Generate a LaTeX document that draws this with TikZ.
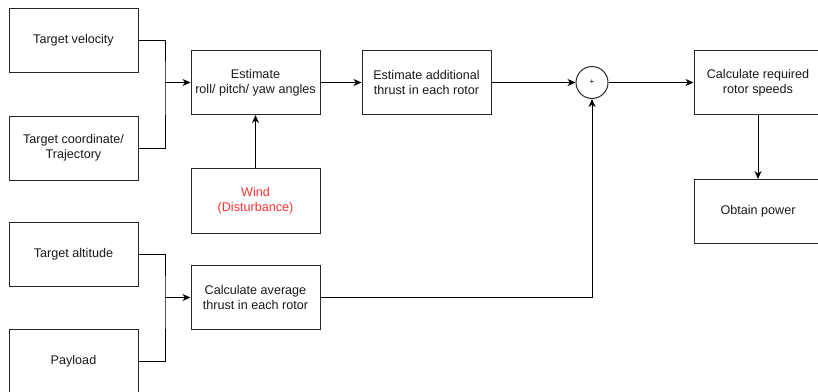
\documentclass[tikz,border=0pt]{standalone}
\usepackage{fontspec}
\setmainfont{Liberation Sans}
\usetikzlibrary{arrows.meta}
\definecolor{txt}{HTML}{1A1A1A}
\definecolor{windred}{HTML}{FF3333}
\begin{document}
\begin{tikzpicture}[x=1pt,y=-1pt,
  box/.style={draw=black!85, line width=1pt, fill=white, minimum width=129pt, minimum height=64pt,
    align=center, inner sep=2pt, font=\fontsize{12.6pt}{15pt}\selectfont, text=txt},
  sumnode/.style={draw=black!85, line width=1pt, circle, minimum size=32pt, inner sep=0pt, font=\fontsize{8pt}{9pt}\selectfont},
  conn/.style={line width=1pt, draw=black},
  arr/.style={conn, -{Stealth[length=8pt,width=7pt,inset=2.5pt]}}]
\useasboundingbox (0,0) rectangle (818,391);
\node[box] (tv) at (73.5,40.5) {Target velocity};
\node[box] (tc) at (73.5,148) {Target coordinate/\\Trajectory};
\node[box] (er) at (255.5,82.5) {Estimate\\roll/ pitch/ yaw angles};
\node[box] (ea) at (426.5,82.5) {Estimate additional\\thrust in each rotor};
\node[sumnode] (plus) at (592,82.5) {+};
\node[box, minimum width=128pt] (cr) at (758,82.5) {Calculate required\\rotor speeds};
\node[box, minimum width=128pt] (op) at (758,211.5) {Obtain power};
\node[box, text=windred, minimum height=65pt] (wind) at (255.5,201) {Wind\\(Disturbance)};
\node[box] (ta) at (73.5,254.5) {Target altitude};
\node[box] (pl) at (73.5,361.5) {Payload};
\node[box] (avg) at (255.5,297.5) {Calculate average\\thrust in each rotor};
\coordinate (j1) at (165,82.5);
\coordinate (j2) at (165,297.5);
\draw[conn] (tv.east) -| (j1) |- (tc.east);
\draw[arr] (j1) -- (er.west);
\draw[conn] (ta.east) -| (j2) |- (pl.east);
\draw[arr] (j2) -- (avg.west);
\draw[arr] (wind.north) -- (er.south);
\draw[arr] (er.east) -- (ea.west);
\draw[arr] (ea.east) -- (plus.west);
\draw[arr] (plus.east) -- (cr.west);
\draw[arr] (cr.south) -- (op.north);
\draw[arr] (avg.east) -| (plus.south);
\end{tikzpicture}
\end{document}
